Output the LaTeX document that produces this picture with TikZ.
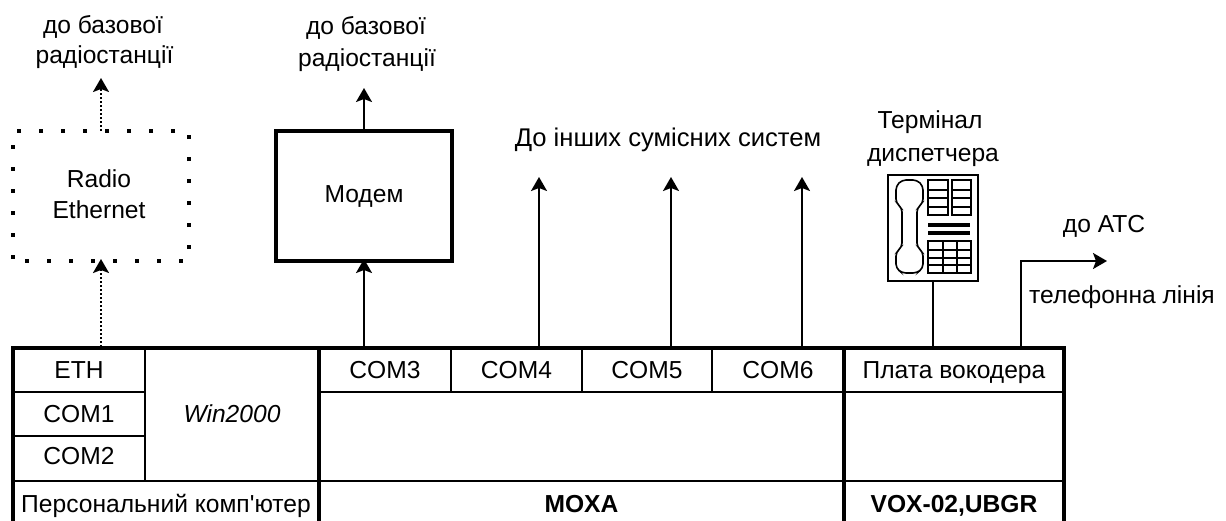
\documentclass[tikz,border=0pt]{standalone}
\usepackage{fontspec}
\setmainfont{Liberation Sans}
\newfontfamily\plainfont{Liberation Sans}
\usetikzlibrary{arrows.meta}
\tikzset{
  x=1pt,y=-1pt,
  every node/.style={inner sep=0pt,outer sep=0pt,font=\fontsize{24.6}{28}\selectfont,align=center,text=black},
  cell/.style={draw=black,line width=2pt,text height=18pt,text depth=2pt},
  lab/.style={anchor=base},
  thick box/.style={draw=black,line width=4pt},
  dot box/.style={draw=black,line width=4pt,dash pattern=on 4pt off 18pt,dash phase=10pt},
  arr/.style={line width=2pt,-{Stealth[length=14pt,width=16pt,inset=3pt]}},
  dotarr/.style={line width=2pt,dash pattern=on 2pt off 2pt,-{Stealth[length=14pt,width=16pt,inset=3pt]}},
  wire/.style={line width=2pt},
  frame/.style={line width=4pt},
  ph/.style={line width=1.6pt},
  phbar/.style={line width=3.5pt},
}
\begin{document}
\begin{tikzpicture}
\useasboundingbox (0,0) rectangle (1226,520);
\clip (0,0) rectangle (1226,520);
% table cells
\node[cell,minimum width=132pt,minimum height=44.5pt] (eth) at (79,370) {ETH};
\node[cell,minimum width=132pt,minimum height=44pt] (com1) at (79,414) {COM1};
\node[cell,minimum width=132pt,minimum height=45pt,text height=14pt] (com2) at (79,458.5) {COM2};
\node[cell,minimum width=174pt,minimum height=134pt] (win) at (232,414) {\itshape Win2000};
\node[cell,minimum width=306pt,minimum height=46pt] (pc) at (166,504) {Персональний комп{\plainfont '}ютер};
\node[cell,minimum width=132pt,minimum height=44.5pt] (com3) at (385,370) {COM3};
\node[cell,minimum width=131pt,minimum height=44.5pt] (com4) at (516.5,370) {COM4};
\node[cell,minimum width=130pt,minimum height=44.5pt] (com5) at (647,370) {COM5};
\node[cell,minimum width=132pt,minimum height=44.5pt] (com6) at (778,370) {COM6};
\node[cell,minimum width=525pt,minimum height=89pt] (moxamid) at (581.5,436.5) {};
\node[cell,minimum width=525pt,minimum height=46pt] (moxa) at (581.5,504) {\bfseries MOXA};
\node[cell,minimum width=220pt,minimum height=44.5pt] (voc) at (954,370) {Плата вокодера};
\node[cell,minimum width=220pt,minimum height=89pt] (vocmid) at (954,436.5) {};
\node[cell,minimum width=220pt,minimum height=46pt] (vox) at (954,504) {\bfseries VOX-02,UBGR};
% thick frame
\draw[frame] (13,527) -- (13,347.5) -- (1064,347.5) -- (1064,527);
\draw[frame] (319,347.5) -- (319,527);
\draw[frame] (844,347.5) -- (844,527);
% upper boxes
\node[dot box,minimum width=176pt,minimum height=130pt] (radio) at (101,196) {};
\node[lab] (radiotxt1) at (99,187) {Radio};
\node[lab] (radiotxt2) at (99,218) {Ethernet};
\node[thick box,minimum width=176pt,minimum height=130pt,text height=16pt,text depth=4pt] (modem) at (364,196) {Модем};
\node[draw=black,line width=2pt,minimum width=90pt,minimum height=106pt] (phone) at (933,228) {};
% phone details
\draw[ph,rounded corners=4pt] (902,180) -- (917,180) -- (923,186) -- (923,203) -- (917,208) -- (917,247) -- (923,252) -- (923,268) -- (917,273) -- (902,273) -- (896,268) -- (896,252) -- (902,247) -- (902,208) -- (896,203) -- (896,186) -- cycle;
\draw[ph] (928,180) rectangle (948,215) (928,190) -- (948,190) (928,198) -- (948,198) (928,207) -- (948,207);
\draw[ph] (952,180) rectangle (971,215) (952,190) -- (971,190) (952,198) -- (971,198) (952,207) -- (971,207);
\draw[phbar] (928,225) -- (970,225) (928,233) -- (970,233);
\draw[ph] (928,241) rectangle (971,273) (943,241) -- (943,273) (957,241) -- (957,273) (928,250) -- (971,250) (928,258) -- (971,258) (928,265) -- (971,265);
% free ends
\coordinate (pEth) at (101,347);
\coordinate (pCom3) at (364,347);
\coordinate (pCom4) at (539,347);
\coordinate (pCom5) at (671,347);
\coordinate (pCom6) at (802,347);
\coordinate (pPhone) at (933,347);
\coordinate (pVoc) at (1021,347);
\coordinate (upRadio) at (101,78);
\coordinate (upModem) at (364,88);
\coordinate (up4) at (539,177);
\coordinate (up5) at (671,177);
\coordinate (up6) at (802,177);
\coordinate (bend) at (1021,261);
\coordinate (ats) at (1107,261);
% connectors
\draw[dotarr] (pEth) -- ([yshift=2pt]radio.south);
\draw[dotarr] (radio.north) -- (upRadio);
\draw[arr] (pCom3) -- ([yshift=2pt]modem.south);
\draw[arr] (modem.north) -- (upModem);
\draw[arr] (pCom4) -- (up4);
\draw[arr] (pCom5) -- (up5);
\draw[arr] (pCom6) -- (up6);
\draw[wire] (pPhone) -- (phone.south);
\draw[arr] (pVoc) -- (bend) -- (ats);
% labels
\node[lab] (l1a) at (103,33) {до базової};
\node[lab] (l1b) at (104.5,63) {радіостанції};
\node[lab] (l2a) at (366,34.5) {до базової};
\node[lab] (l2b) at (367,66.5) {радіостанції};
\node[lab,font=\fontsize{25.6}{28}\selectfont] (l3) at (668,146.5) {До інших сумісних систем};
\node[lab] (l4a) at (930,128) {Термінал};
\node[lab] (l4b) at (933,161.5) {диспетчера};
\node[lab] (l5) at (1104,232) {до АТС};
\node[lab] (l6) at (1122,303) {телефонна лінія};
\end{tikzpicture}
\end{document}
